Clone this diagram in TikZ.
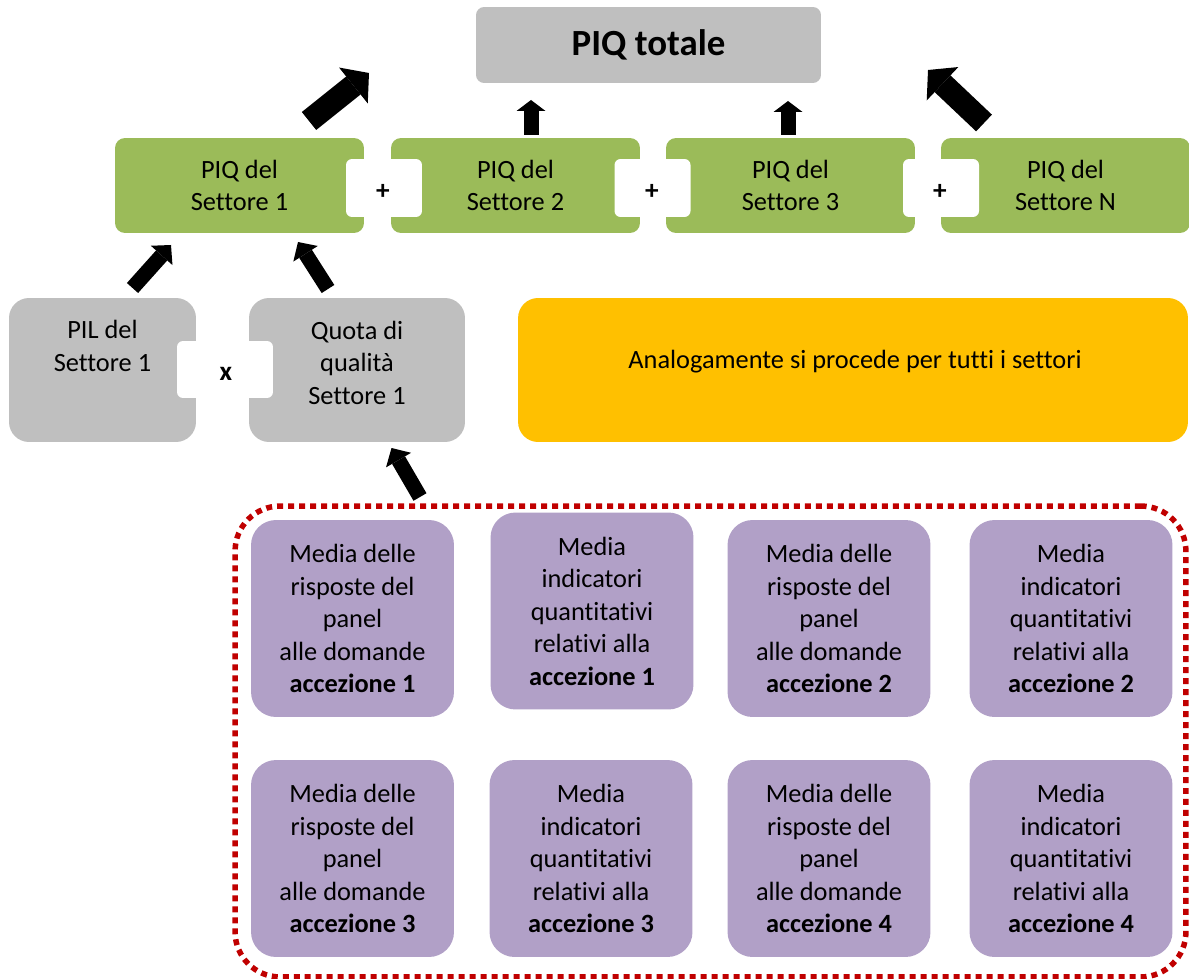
\documentclass[tikz,border=0pt]{standalone}
\usepackage{fontspec}
\setmainfont{Carlito}[Ligatures=NoCommon]
\usepackage{tikz}
\usetikzlibrary{arrows.meta, positioning}

\definecolor{piqgray}{HTML}{BFBFBF}
\definecolor{piqgreen}{HTML}{9BBB59}
\definecolor{piqpurple}{HTML}{B1A0C7}
\definecolor{piqorange}{HTML}{FFC000}
\definecolor{piqred}{HTML}{C00000}

\tikzset{
  txt/.style={font=\fontsize{15}{18.5}\selectfont, align=center, inner sep=0pt},
  optxt/.style={font=\fontsize{15.5}{18.5}\selectfont\bfseries, inner sep=0pt},
  sectorbox/.style={txt, fill=piqgreen, rounded corners=0.2cm, minimum width=4.98cm, minimum height=1.9cm},
  gapbox/.style={fill=white, rounded corners=0.12cm, minimum width=1.52cm, minimum height=1.16cm, inner sep=0pt},
  greybox/.style={fill=piqgray, rounded corners=0.4cm, minimum height=2.88cm, inner sep=0pt},
  mediabox/.style={txt, fill=piqpurple, rounded corners=0.5cm, minimum width=4.06cm, minimum height=3.94cm},
  bigarrow/.style={line width=0.46cm, -{Triangle[length=0.4cm, width=0.92cm, line width=0pt]}},
  midarrow/.style={line width=0.3cm, -{Triangle[length=0.28cm, width=0.58cm, line width=0pt]}},
  smallarrow/.style={line width=0.3cm, -{Triangle[length=0.22cm, width=0.58cm, line width=0pt]}},
}

\begin{document}
\begin{tikzpicture}[x=0.02cm, y=-0.02cm]
    \useasboundingbox (0,0) rectangle (1189,979);

    % top
    \node[fill=piqgray, rounded corners=0.16cm, minimum width=6.9cm, minimum height=1.52cm,
          font=\fontsize{21}{25}\selectfont\bfseries] (tot) at (648.5,45) {PIQ totale};

    % sectors
    \node[sectorbox] (s1) at (239.5,185.5) {PIQ del\\Settore 1};
    \node[sectorbox] (s2) at (515.5,185.5) {PIQ del\\Settore 2};
    \node[sectorbox] (s3) at (790.5,185.5) {PIQ del\\Settore 3};
    \node[sectorbox] (sN) at (1065.5,185.5) {PIQ del\\Settore N};
    \node[gapbox] (gap1) at (384,188) {};
    \node[gapbox] (gap2) at (652.5,188) {};
    \node[gapbox] (gap3) at (941,188) {};
    \node[optxt] (plus1) at (383,192) {+};
    \node[optxt] (plus2) at (652,192) {+};
    \node[optxt] (plus3) at (940,192) {+};

    % PIL x quota
    \node[greybox, minimum width=3.74cm] (pil) at (102.5,370) {};
    \node[greybox, minimum width=4.32cm] (quota) at (357,370) {};
    \node[txt] (piltxt) at (102.5,346) {PIL del\\Settore 1};
    \node[txt] (quotatxt) at (357,362.5) {Quota di\\qualità\\Settore 1};
    \node[gapbox, minimum width=1.92cm, minimum height=1.14cm] (gapx) at (225,369.5) {};
    \node[optxt] (times) at (226,374) {x};

    \node[fill=piqorange, rounded corners=0.4cm, minimum width=13.4cm, minimum height=2.88cm] (other) at (853,370) {};
    \node[txt] (othertxt) at (855,362) {Analogamente si procede per tutti i settori};

    % panel + indicatori
    \node[draw=piqred, line width=0.11cm, dash pattern=on 0.12cm off 0.1cm, rounded corners=0.9cm,
          minimum width=19.02cm, minimum height=9.42cm] (frame) at (710.5,741.5) {};
    \node[mediabox] (m1) at (352.5,618.5) {Media delle\\risposte del\\panel\\alle domande\\\textbf{accezione 1}};
    \node[mediabox] (m2) at (592,611) {Media\\indicatori\\quantitativi\\relativi alla\\\textbf{accezione 1}};
    \node[mediabox] (m3) at (829,618.5) {Media delle\\risposte del\\panel\\alle domande\\\textbf{accezione 2}};
    \node[mediabox] (m4) at (1071,618.5) {Media\\indicatori\\quantitativi\\relativi alla\\\textbf{accezione 2}};
    \node[mediabox] (m5) at (352.5,858.5) {Media delle\\risposte del\\panel\\alle domande\\\textbf{accezione 3}};
    \node[mediabox] (m6) at (591,858.5) {Media\\indicatori\\quantitativi\\relativi alla\\\textbf{accezione 3}};
    \node[mediabox] (m7) at (829,858.5) {Media delle\\risposte del\\panel\\alle domande\\\textbf{accezione 4}};
    \node[mediabox] (m8) at (1071,858.5) {Media\\indicatori\\quantitativi\\relativi alla\\\textbf{accezione 4}};

    % arrow ends
    \coordinate (s1out) at (309,121);
    \coordinate (totin1) at (369,73);
    \coordinate (s2out) at (531,135);
    \coordinate (totin2) at (531,100);
    \coordinate (s3out) at (788,135);
    \coordinate (totin3) at (788,101);
    \coordinate (sNout) at (984,123);
    \coordinate (totinN) at (928,70);
    \coordinate (pilout) at (132.5,288);
    \coordinate (s1in1) at (171,245);
    \coordinate (quotaout) at (328,289);
    \coordinate (s1in2) at (298,242);
    \coordinate (frameout) at (420,497);
    \coordinate (quotain) at (391.5,448);

    \draw[bigarrow] (s1out) -- (totin1);
    \draw[smallarrow] (s2out) -- (totin2);
    \draw[smallarrow] (s3out) -- (totin3);
    \draw[bigarrow] (sNout) -- (totinN);
    \draw[midarrow] (pilout) -- (s1in1);
    \draw[midarrow] (quotaout) -- (s1in2);
    \draw[midarrow] (frameout) -- (quotain);
\end{tikzpicture}
\end{document}
